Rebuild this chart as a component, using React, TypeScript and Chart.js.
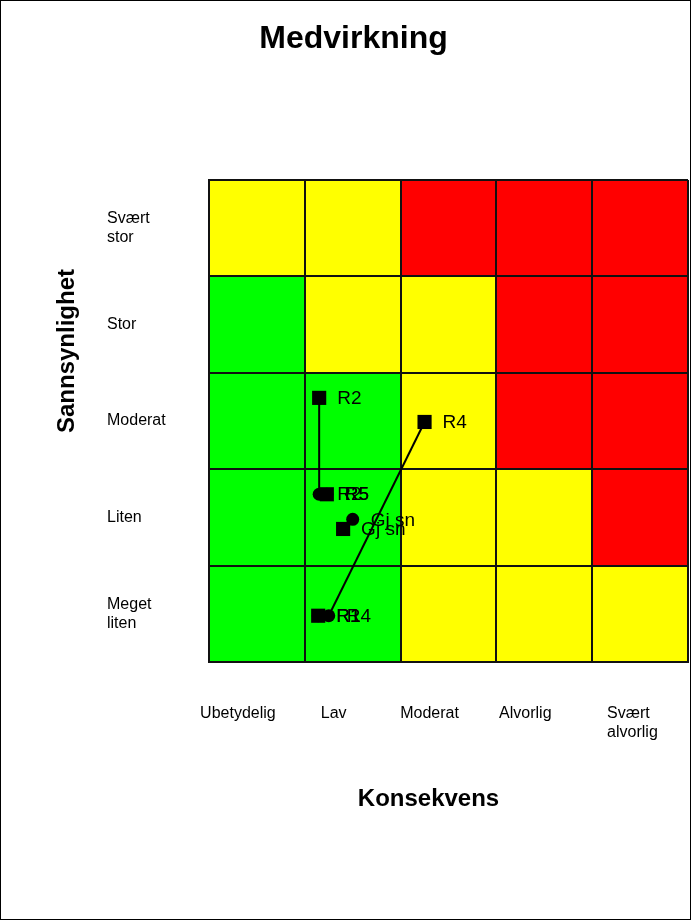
import React, { useEffect, useRef } from "react";
import { Chart, registerables } from "chart.js";

Chart.register(...registerables);

// Axis categories
const consequenceLabels: string[][] = [["Ubetydelig"], ["Lav"], ["Moderat"], ["Alvorlig"], ["Svært", "alvorlig"]];
// bottom to top
const probabilityLabels: string[][] = [["Meget", "liten"], ["Liten"], ["Moderat"], ["Stor"], ["Svært", "stor"]];

const G = "#00ff00";
const Y = "#ffff00";
const R = "#ff0000";
// risk matrix colours, rows bottom to top, columns left to right
const rowMegetLiten = [G, G, Y, Y, Y];
const rowLiten = [G, G, Y, Y, R];
const rowModerat = [G, G, Y, R, R];
const rowStor = [G, Y, Y, R, R];
const rowSvaertStor = [Y, Y, R, R, R];
const matrixRows = [rowMegetLiten, rowLiten, rowModerat, rowStor, rowSvaertStor];

// Risks (squares = før tiltak, circles = etter tiltak)
const riskNames = ["R1", "R2", "R4", "R5", "Gj sn"];
const squareX = [1.14, 1.15, 2.25, 1.23, 1.4];
const squareY = [0.48, 2.74, 2.49, 1.74, 1.38];
const circleX = [1.14, 1.15, 1.25, 1.23, 1.5];
const circleY = [0.48, 1.74, 0.48, 1.74, 1.48];

const titleText = "Medvirkning";
const xTitle = "Konsekvens";
const yTitle = "Sannsynlighet";

const FONT = "'Liberation Sans', Arial, sans-serif";

export default function App() {
  const ref = useRef<HTMLCanvasElement | null>(null);

  useEffect(() => {
    document.body.style.margin = "0";
    const canvas = ref.current;
    if (!canvas) return;

    const matrixPlugin = {
      id: "matrix",
      beforeDraw(chart: any) {
        const { ctx } = chart;
        const xs = chart.scales.x;
        const ys = chart.scales.y;
        ctx.save();
        ctx.fillStyle = "#ffffff";
        ctx.fillRect(0, 0, chart.width, chart.height);
        matrixRows.forEach((row, r) => {
          row.forEach((color, c) => {
            const x0 = xs.getPixelForValue(c);
            const x1 = xs.getPixelForValue(c + 1);
            const y0 = ys.getPixelForValue(r + 1);
            const y1 = ys.getPixelForValue(r);
            ctx.fillStyle = color;
            ctx.fillRect(x0, y0, x1 - x0, y1 - y0);
          });
        });
        ctx.restore();
      },
    };

    const textPlugin = {
      id: "texts",
      afterDatasetsDraw(chart: any) {
        const { ctx } = chart;
        ctx.save();
        ctx.fillStyle = "#000";
        ctx.font = `19px ${FONT}`;
        ctx.textAlign = "left";
        ctx.textBaseline = "middle";
        [1, 2].forEach((di) => {
          const meta = chart.getDatasetMeta(chart.data.datasets.length - di);
          meta.data.forEach((pt: any, i: number) => {
            ctx.fillText(riskNames[i], pt.x + 18, pt.y + 1);
          });
        });
        ctx.restore();
      },
      afterDraw(chart: any) {
        const { ctx, chartArea } = chart;
        const xs = chart.scales.x;
        const ys = chart.scales.y;
        ctx.save();
        ctx.fillStyle = "#000";
        // title
        ctx.font = `bold 32px ${FONT}`;
        ctx.textAlign = "center";
        ctx.textBaseline = "middle";
        ctx.fillText(titleText, chart.width / 2 + 8, 39);
        // x title
        ctx.font = `bold 24px ${FONT}`;
        ctx.fillText(xTitle, (chartArea.left + chartArea.right) / 2 - 20, chartArea.bottom + 137);
        // y title
        ctx.save();
        ctx.translate(chartArea.left - 142, (chartArea.top + chartArea.bottom) / 2 - 70);
        ctx.rotate(-Math.PI / 2);
        ctx.fillText(yTitle, 0, 0);
        ctx.restore();
        // tick labels
        ctx.font = `16px ${FONT}`;
        const lh = 19;
        consequenceLabels.forEach((lines, i) => {
          const cx = xs.getPixelForValue(i + 0.5) - 19;
          lines.forEach((t, k) => {
            ctx.textAlign = lines.length > 1 ? "left" : "center";
            const px = lines.length > 1 ? cx - 14 : cx;
            ctx.fillText(t, px, chartArea.bottom + 52 + k * lh);
          });
        });
        ctx.textAlign = "left";
        probabilityLabels.forEach((lines, i) => {
          const cy = ys.getPixelForValue(i + 0.5);
          const start = cy - ((lines.length - 1) * lh) / 2;
          lines.forEach((t, k) => {
            ctx.fillText(t, chartArea.left - 102, start + k * lh);
          });
        });
        // outer frame
        ctx.strokeStyle = "#000";
        ctx.lineWidth = 1;
        ctx.strokeRect(0.5, 0.5, chart.width - 1, chart.height - 1);
        ctx.restore();
      },
    };

    const lineSets = riskNames
      .map((name, i) => ({ name, i }))
      .filter((r) => r.name !== "Gj sn")
      .map(({ name, i }) => ({
        type: "line" as const,
        label: name,
        data: [
          { x: squareX[i], y: squareY[i] },
          { x: circleX[i], y: circleY[i] },
        ],
        borderColor: "#000",
        borderWidth: 2,
        pointRadius: 0,
        showLine: true,
        fill: false,
      }));

    const chart = new Chart(canvas, {
      type: "scatter",
      data: {
        datasets: [
          ...lineSets,
          {
            type: "scatter" as const,
            label: "Etter",
            data: circleX.map((x, i) => ({ x, y: circleY[i] })),
            pointStyle: "circle",
            pointRadius: 6.5,
            backgroundColor: "#000",
            borderColor: "#000",
            borderWidth: 0,
          },
          {
            type: "scatter" as const,
            label: "Før",
            data: squareX.map((x, i) => ({ x, y: squareY[i] })),
            pointStyle: "rect",
            pointRadius: 10,
            backgroundColor: "#000",
            borderColor: "#000",
            borderWidth: 0,
          },
        ] as any,
      },
      options: {
        animation: false,
        responsive: false,
        devicePixelRatio: 1,
        layout: { autoPadding: false, padding: { left: 209, right: 3, top: 180, bottom: 258 } },
        plugins: {
          legend: { display: false },
          tooltip: { enabled: false },
          title: { display: false },
        },
        scales: {
          x: {
            type: "linear",
            min: 0,
            max: 5,
            ticks: { display: false, stepSize: 1 },
            grid: { color: "#111", lineWidth: 2, drawTicks: false },
            border: { display: true, color: "#111", width: 2 },
          },
          y: {
            type: "linear",
            min: 0,
            max: 5,
            ticks: { display: false, stepSize: 1 },
            grid: { color: "#111", lineWidth: 2, drawTicks: false },
            border: { display: true, color: "#111", width: 2 },
          },
        },
      },
      plugins: [matrixPlugin, textPlugin],
    });

    return () => chart.destroy();
  }, []);

  return <canvas ref={ref} width={691} height={920} style={{ display: "block" }} />;
}
